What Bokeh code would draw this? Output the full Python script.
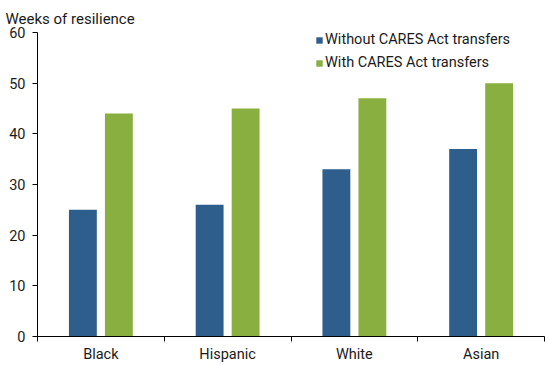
from bokeh.plotting import figure
from bokeh.models import FixedTicker, Range1d, Legend, LegendItem, ColumnDataSource
from bokeh.embed import file_html
from bokeh.resources import INLINE

categories = ["Black", "Hispanic", "White", "Asian"]
without_cares = [25, 26, 33, 37]
with_cares = [44, 45, 47, 50]
y_ticks = [0, 10, 20, 30, 40, 50, 60]

BLUE = "#2e5e8c"
GREEN = "#8aaf41"
TXT = "#1a1a1a"
FONT = "Roboto"

p = figure(width=550, height=365, output_backend="svg", toolbar_location=None,
           x_range=Range1d(0, len(categories)), y_range=Range1d(0, 60),
           min_border_left=37, min_border_right=6, min_border_top=32, min_border_bottom=28)
p.outline_line_color = None
p.xgrid.visible = False
p.ygrid.visible = False
p.background_fill_color = "white"
p.border_fill_color = "white"

centers = [i + 0.5 for i in range(len(categories))]
off = 0.142
bw = 0.22
src = ColumnDataSource(dict(
    xb=[c - off for c in centers], xg=[c + off for c in centers],
    wo=without_cares, wi=with_cares))
r1 = p.vbar(x="xb", top="wo", width=bw, bottom=0, source=src, fill_color=BLUE, line_color=None)
r2 = p.vbar(x="xg", top="wi", width=bw, bottom=0, source=src, fill_color=GREEN, line_color=None)

# x axis
xa = p.xaxis[0]
xa.ticker = FixedTicker(ticks=centers, minor_ticks=list(range(len(categories) + 1)))
xa.major_label_overrides = {c: n for c, n in zip(centers, categories)}
xa.major_tick_out = 0
xa.major_tick_in = 0
xa.minor_tick_out = 5
xa.minor_tick_in = 0
xa.minor_tick_line_color = "black"
xa.axis_line_color = "black"
xa.major_label_text_font = FONT
xa.major_label_text_font_size = "14.5px"
xa.major_label_text_color = TXT
xa.major_label_standoff = 4

ya = p.yaxis[0]
ya.ticker = FixedTicker(ticks=y_ticks)
ya.minor_tick_line_color = None
ya.major_tick_out = 5
ya.major_tick_in = 0
ya.axis_line_color = "black"
ya.major_tick_line_color = "black"
ya.major_label_text_font = FONT
ya.major_label_text_font_size = "14.5px"
ya.major_label_text_color = TXT
ya.major_label_standoff = 7

p.title.text = "Weeks of resilience"
p.title.text_font = FONT
p.title.text_font_size = "15px"
p.title.text_font_style = "normal"
p.title.text_color = TXT
p.title.align = "left"
p.title.offset = -32
p.title.standoff = 10

legend = Legend(items=[LegendItem(label="Without CARES Act transfers", renderers=[r1]),
                       LegendItem(label="With CARES Act transfers", renderers=[r2])],
                location=(278, 265), padding=0, margin=0, spacing=6,
                glyph_width=8, glyph_height=8, label_standoff=2, label_height=16,
                label_text_font=FONT, label_text_font_size="14.5px", label_text_color=TXT,
                border_line_color=None, background_fill_alpha=0)
p.add_layout(legend, "center")

open("out.html", "w").write(file_html(p, INLINE))
